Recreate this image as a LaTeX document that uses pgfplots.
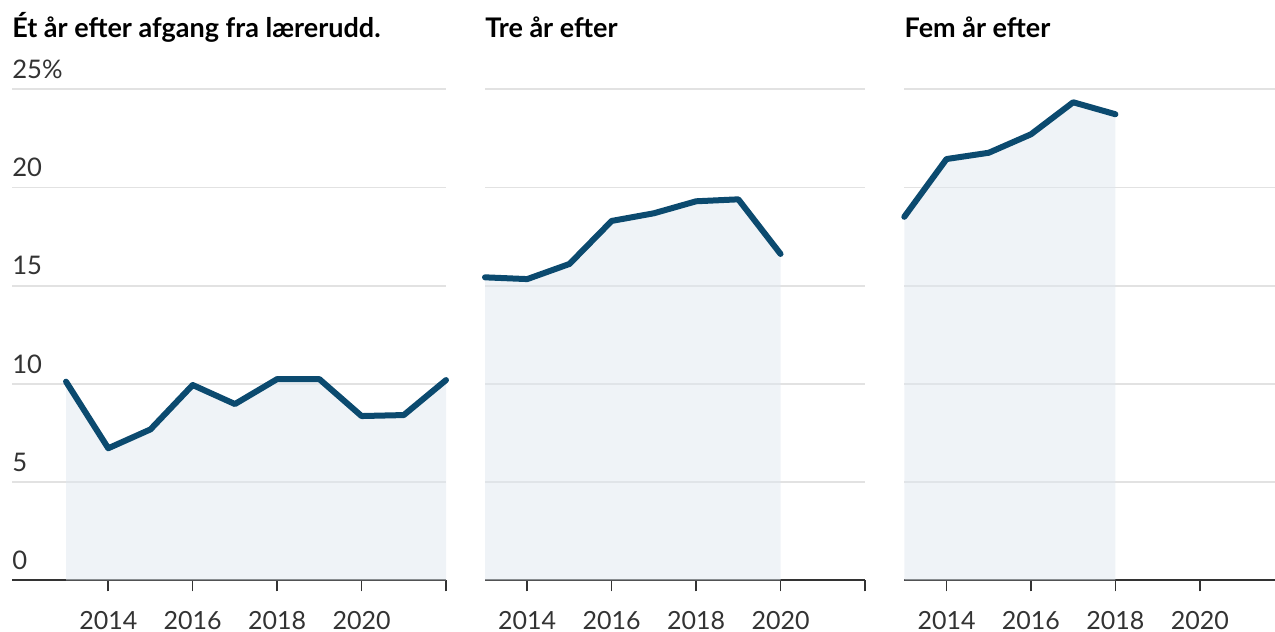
\documentclass[border=0pt]{standalone}
\usepackage{pgfplots}
\pgfplotsset{compat=1.18}
\usepackage{fontspec}
\setmainfont{Lato}
\definecolor{linec}{HTML}{0B4A6F}
\definecolor{fillc}{HTML}{DFE7EF}
\definecolor{gridc}{HTML}{E2E2E2}
\definecolor{txt}{HTML}{333333}
\pgfplotsset{
 panel/.style={
  scale only axis, anchor=south west,
  height=245.6pt, ymin=0, ymax=25,
  axis x line=bottom, axis y line=left, axis line style={-},
  y axis line style={draw=none},
  x axis line style={line width=1pt, draw=txt},
  ytick={0,5,10,15,20,25},
  ymajorgrids, major grid style={gridc, line width=0.9pt},
  xtick={2014,2016,2018,2020,2022},
  xticklabels={2014,2016,2018,2020,{}},
  xtick style={line width=0.8pt, draw=txt},
  ytick style={draw=none},
  tick align=outside, major tick length=5.5pt,
  ytick align=inside,
  xticklabel style={font=\fontsize{12.5}{14}\selectfont, text=txt, anchor=north, inner sep=0pt, yshift=-9.5pt},
  yticklabel style={font=\fontsize{12.8}{14}\selectfont, text=txt, anchor=base west, inner sep=0pt, yshift=5.5pt},
  clip=false,
  title style={at={(0,1)}, anchor=base west, inner sep=0pt, yshift=20pt, font=\fontsize{13.5}{16}\selectfont\bfseries},
 },
 fillst/.style={draw=none, fill=fillc, fill opacity=0.5},
 linest/.style={linec, line width=3pt, line join=round, line cap=round},
}
\begin{document}
\begin{tikzpicture}
\useasboundingbox (0,0) rectangle (637.5pt,316pt);
\begin{axis}[panel, at={(6pt,25.75pt)}, width=217pt, xmin=2011.72, xmax=2022,
  yticklabels={0,5,10,15,20,25\%},
  title={Ét år efter afgang fra lærerudd.}]
\addplot[fillst] coordinates {(2013,10.12) (2014,6.73) (2015,7.69) (2016,9.95) (2017,8.98) (2018,10.25) (2019,10.25) (2020,8.37) (2021,8.42) (2022,10.20)} \closedcycle;
\addplot[linest] coordinates {(2013,10.12) (2014,6.73) (2015,7.69) (2016,9.95) (2017,8.98) (2018,10.25) (2019,10.25) (2020,8.37) (2021,8.42) (2022,10.20)};
\end{axis}
\begin{axis}[panel, at={(242.5pt,25.75pt)}, width=190pt, xmin=2013, xmax=2022,
  yticklabels={,,,,,},
  title={Tre år efter}]
\addplot[fillst] coordinates {(2013,15.43) (2014,15.34) (2015,16.11) (2016,18.30) (2017,18.69) (2018,19.30) (2019,19.40) (2020,16.62)} \closedcycle;
\addplot[linest] coordinates {(2013,15.43) (2014,15.34) (2015,16.11) (2016,18.30) (2017,18.69) (2018,19.30) (2019,19.40) (2020,16.62)};
\end{axis}
\begin{axis}[panel, at={(452.15pt,25.75pt)}, width=185.35pt, xmin=2013, xmax=2021.78,
  yticklabels={,,,,,},
  title={Fem år efter}]
\addplot[fillst] coordinates {(2013,18.51) (2014,21.45) (2015,21.77) (2016,22.71) (2017,24.34) (2018,23.73)} \closedcycle;
\addplot[linest] coordinates {(2013,18.51) (2014,21.45) (2015,21.77) (2016,22.71) (2017,24.34) (2018,23.73)};
\end{axis}
\end{tikzpicture}
\end{document}
